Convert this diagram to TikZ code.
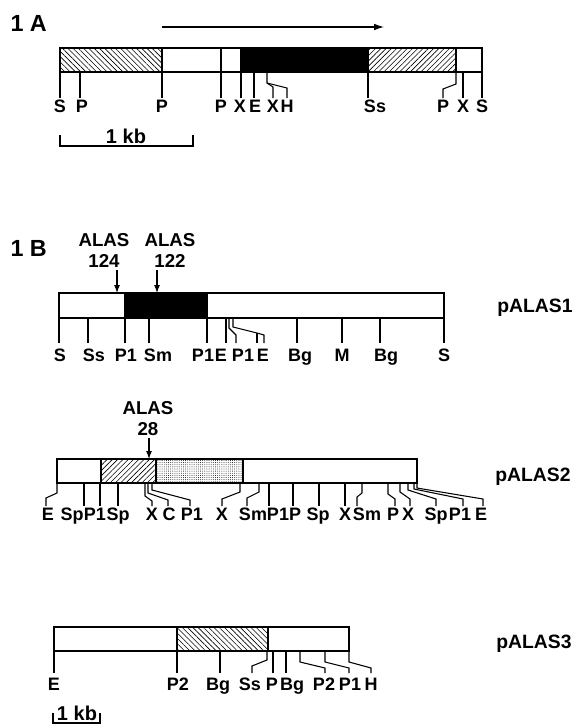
\documentclass[tikz,border=0pt]{standalone}
\usepackage{fontspec}
\setmainfont{Liberation Sans}
\usetikzlibrary{arrows.meta,patterns.meta}
\begin{document}
\begin{tikzpicture}[x=0.75pt,y=-0.75pt,line width=0.8pt,
  lab/.style={font=\bfseries\fontsize{13.5}{15}\selectfont,anchor=base,inner sep=0pt},
  pname/.style={font=\bfseries\fontsize{14.5}{16}\selectfont,inner sep=0pt},
  panel/.style={font=\bfseries\fontsize{17.5}{19}\selectfont,anchor=base west,inner sep=0pt},
  alas/.style={font=\bfseries\fontsize{14}{15.75}\selectfont,align=center,anchor=south,inner sep=0pt},
  kb/.style={font=\bfseries\fontsize{15}{16}\selectfont,anchor=base,inner sep=0pt},
  hatchNW/.style={pattern={Lines[angle=-45,distance=2.8pt,line width=0.45pt]}},
  hatchNE/.style={pattern={Lines[angle=45,distance=2.8pt,line width=0.45pt]}},
  stipple/.style={pattern={Dots[distance=1.6pt,radius=0.33pt]}},
  arr/.style={-{Latex[length=6pt,width=4.5pt]}},
  tk/.style={line width=0.8pt}]
\useasboundingbox (0,0) rectangle (586,725);

% ---------------- 1A ----------------
\node[panel] (p1A) at (10,31) {1 A};
\coordinate (arA0) at (162,27);
\coordinate (arA1) at (384,27);
\draw[-{Latex[length=7.5pt,width=5pt]}] (arA0) -- (arA1);

\fill[black] (241,48) rectangle (369,72);
\path[hatchNW] (60,48) rectangle (162,72);
\path[hatchNE] (369,48) rectangle (456,72);
\draw (60,48) rectangle (482,72);
\draw (162,48)--(162,72) (241,48)--(241,72) (456,48)--(456,72);

\draw[tk] (60,72)--(60,98);
\draw[tk] (80,72)--(80,98);
\draw[tk] (162,72)--(162,98);
\draw[tk] (221,48)--(221,98);
\draw[tk] (241,72)--(241,98);
\draw[tk] (254,72)--(254,98);
\draw[tk] (267,72)--(267,83)--(273,87)--(273,98);
\draw[tk] (267,83)--(287,88)--(287,98);
\draw[tk] (368,72)--(368,98);
\draw[tk] (456,72)--(456,84)--(443,89)--(443,98);
\draw[tk] (463,72)--(463,98);
\draw[tk] (482,72)--(482,98);

\node[lab] (aS1) at (60,112) {S};
\node[lab] (aP1) at (82,112) {P};
\node[lab] (aP2) at (162,112) {P};
\node[lab] (aP3) at (221,112) {P};
\node[lab] (aX1) at (240,112) {X};
\node[lab] (aE1) at (255,112) {E};
\node[lab] (aX2) at (273,112) {X};
\node[lab] (aH1) at (287,112) {H};
\node[lab] (aSs) at (375,112) {Ss};
\node[lab] (aP4) at (443,112) {P};
\node[lab] (aX3) at (463,112) {X};
\node[lab] (aS2) at (482,112) {S};

\draw[tk] (60,135)--(60,146)--(193,146)--(193,135);
\node[kb] (kbA) at (126,143) {1 kb};

% ---------------- 1B ----------------
\node[panel] (p1B) at (10,256) {1 B};

% pALAS1
\node[alas] (a124) at (104,268) {ALAS\\124};
\node[alas] (a122) at (170,268) {ALAS\\122};
\coordinate (t124) at (117,293);
\coordinate (t122) at (157,293);
\draw[arr] (117,270) -- (t124);
\draw[arr] (157,270) -- (t122);

\fill[black] (125,293) rectangle (207,318);
\draw (59,293) rectangle (444,318);
\draw (125,293)--(125,318) (207,293)--(207,318);

\draw[tk] (59,318)--(59,343);
\draw[tk] (88,318)--(88,343);
\draw[tk] (125,318)--(125,343);
\draw[tk] (149,318)--(149,343);
\draw[tk] (207,318)--(207,343);
\draw[tk] (226,318)--(226,343);
\draw[tk] (229,318)--(229,328)--(236,335)--(236,343);
\draw[tk] (233,318)--(233,327)--(257,333)--(264,335)--(264,343);
\draw[tk] (257,333)--(257,343);
\draw[tk] (297,318)--(297,343);
\draw[tk] (342,318)--(342,343);
\draw[tk] (380,318)--(380,343);
\draw[tk] (444,318)--(444,343);

\node[lab] (b1) at (60,361) {S};
\node[lab] (b2) at (94,361) {Ss};
\node[lab] (b3) at (126,361) {P1};
\node[lab] (b4) at (158,361) {Sm};
\node[lab] (b5) at (203,361) {P1};
\node[lab] (b6) at (221,361) {E};
\node[lab] (b7) at (243,361) {P1};
\node[lab] (b8) at (263,361) {E};
\node[lab] (b9) at (300,361) {Bg};
\node[lab] (b10) at (342,361) {M};
\node[lab] (b11) at (386,361) {Bg};
\node[lab] (b12) at (444,361) {S};
\node[pname] (n1) at (535,308) {pALAS1};

% pALAS2
\node[alas] (a28) at (148,436) {ALAS\\28};
\coordinate (t28) at (149,459);
\draw[arr] (149,438) -- (t28);

\path[hatchNE] (101,459) rectangle (156,483);
\path[stipple] (156,459) rectangle (243,483);
\draw (57,459) rectangle (417,483);
\draw (101,459)--(101,483) (156,459)--(156,483) (243,459)--(243,483);

\draw[tk] (57,483)--(57,493)--(46,498)--(46,506);
\draw[tk] (84,483)--(84,506);
\draw[tk] (100,483)--(100,506);
\draw[tk] (118,483)--(118,506);
\draw[tk] (145,483)--(145,496)--(152,501)--(152,506);
\draw[tk] (148,483)--(148,493)--(168,500)--(168,506);
\draw[tk] (152,483)--(152,490)--(190,500)--(190,506);
\draw[tk] (240,483)--(240,492)--(222,499)--(222,506);
\draw[tk] (259,483)--(259,492)--(247,498)--(247,506);
\draw[tk] (269,483)--(269,506);
\draw[tk] (293,483)--(293,506);
\draw[tk] (319,483)--(319,506);
\draw[tk] (345,483)--(345,506);
\draw[tk] (362,483)--(362,493)--(357,497)--(357,506);
\draw[tk] (388,483)--(388,494)--(395,499)--(395,506);
\draw[tk] (400,483)--(400,492)--(410,499)--(410,506);
\draw[tk] (408,483)--(408,490)--(436,499)--(436,506);
\draw[tk] (414,483)--(414,489)--(463,499)--(463,506);
\draw[tk] (417,483)--(417,488)--(483,499)--(483,506);

\node[lab] (c1) at (48,520) {E};
\node[lab] (c2) at (72,520) {Sp};
\node[lab] (c3) at (95,520) {P1};
\node[lab] (c4) at (118,520) {Sp};
\node[lab] (c5) at (152,520) {X};
\node[lab] (c6) at (169,520) {C};
\node[lab] (c7) at (192,520) {P1};
\node[lab] (c8) at (222,520) {X};
\node[lab] (c9) at (253,520) {Sm};
\node[lab] (c10) at (278,520) {P1};
\node[lab] (c11) at (295,520) {P};
\node[lab] (c12) at (318,520) {Sp};
\node[lab] (c13) at (345,520) {X};
\node[lab] (c14) at (367,520) {Sm};
\node[lab] (c15) at (393,520) {P};
\node[lab] (c16) at (408,520) {X};
\node[lab] (c17) at (436,520) {Sp};
\node[lab] (c18) at (460,520) {P1};
\node[lab] (c19) at (481,520) {E};
\node[pname] (n2) at (533,477) {pALAS2};

% pALAS3
\path[hatchNW] (177,627) rectangle (268,651);
\draw (54,627) rectangle (349,651);
\draw (177,627)--(177,651) (268,627)--(268,651);

\draw[tk] (54,651)--(54,673);
\draw[tk] (177,651)--(177,673);
\draw[tk] (220,651)--(220,673);
\draw[tk] (267,651)--(267,660)--(252,666)--(252,673);
\draw[tk] (273,651)--(273,673);
\draw[tk] (286,651)--(286,673);
\draw[tk] (300,651)--(300,662)--(325,668)--(325,673);
\draw[tk] (325,651)--(325,662)--(349,668)--(349,673);
\draw[tk] (349,651)--(349,662)--(371,668)--(371,673);

\node[lab] (d1) at (54,690) {E};
\node[lab] (d2) at (178,690) {P2};
\node[lab] (d3) at (218,690) {Bg};
\node[lab] (d4) at (250,690) {Ss};
\node[lab] (d5) at (272,690) {P};
\node[lab] (d6) at (292,690) {Bg};
\node[lab] (d7) at (324,690) {P2};
\node[lab] (d8) at (350,690) {P1};
\node[lab] (d9) at (371,690) {H};
\node[pname] (n3) at (534,644) {pALAS3};

\draw[tk] (53,713)--(53,723)--(100,723)--(100,713);
\node[kb] (kbB) at (77,720) {1 kb};
\end{tikzpicture}
\end{document}
